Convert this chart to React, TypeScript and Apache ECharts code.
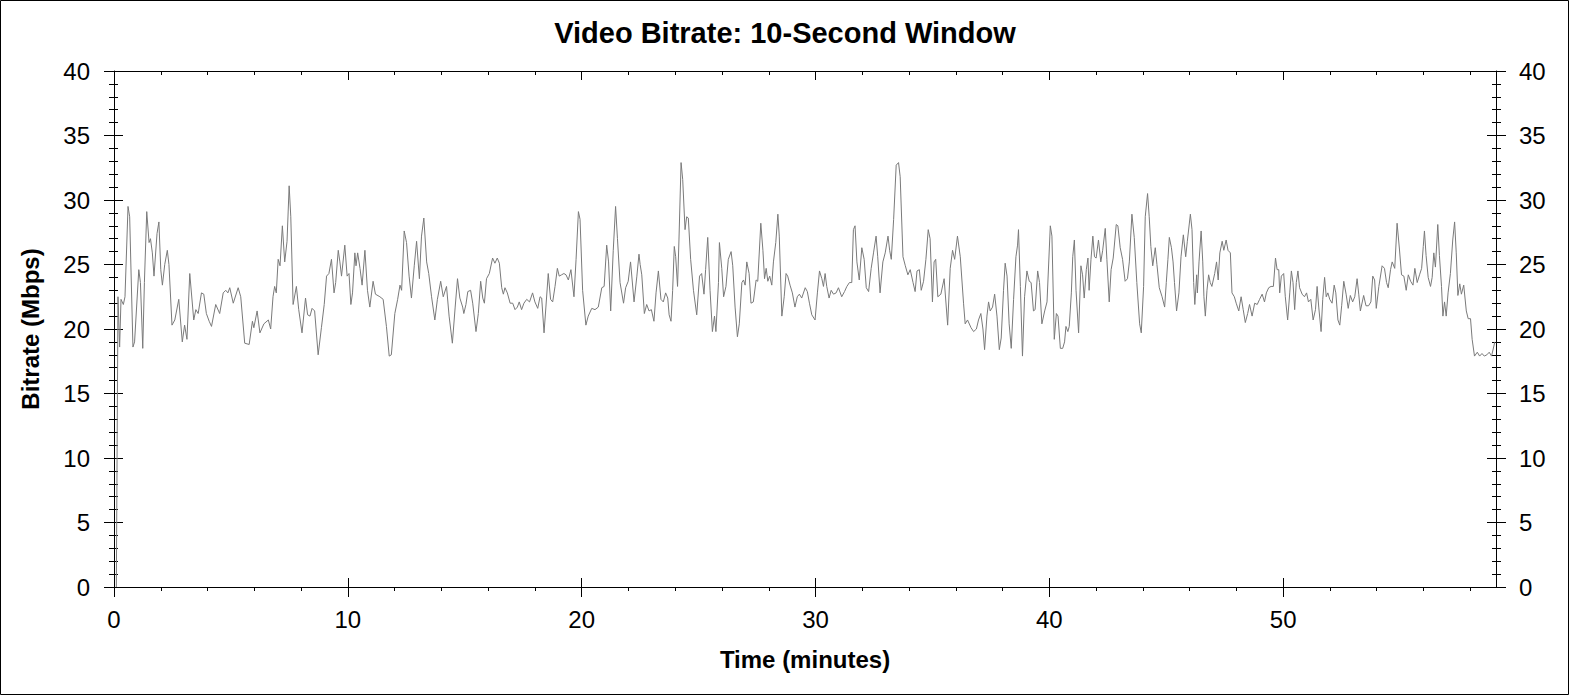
import { useEffect, useRef } from 'react';
import * as echarts from 'echarts';

// time in minutes, bitrate in Mbps (10-second window)
const minutes = [
  0.1, 0.17, 0.24, 0.3, 0.4, 0.47, 0.6, 0.67, 0.81, 0.88, 1.06, 1.13, 1.23, 1.3, 1.4, 1.5, 1.56, 1.64, 1.71, 1.84,
  1.92, 2.0, 2.07, 2.17, 2.28, 2.35, 2.48, 2.6, 2.77, 2.92, 3.02, 3.12, 3.24, 3.41, 3.5, 3.6, 3.74, 3.84, 3.95, 4.07,
  4.17, 4.35, 4.52, 4.67, 4.78, 4.87, 4.95, 5.1, 5.31, 5.42, 5.59, 5.78, 5.92, 5.98, 6.12, 6.24, 6.41, 6.6, 6.7, 6.8,
  6.87, 6.94, 7.02, 7.1, 7.2, 7.3, 7.4, 7.49, 7.56, 7.66, 7.8, 7.9, 8.04, 8.19, 8.28, 8.38, 8.47, 8.58, 8.73, 8.87,
  8.99, 9.09, 9.19, 9.3, 9.41, 9.48, 9.59, 9.66, 9.73, 9.87, 9.97, 10.05, 10.13, 10.2, 10.3, 10.35, 10.42, 10.52, 10.61, 10.73,
  10.84, 10.94, 11.08, 11.18, 11.37, 11.51, 11.65, 11.77, 11.86, 12.01, 12.13, 12.23, 12.3, 12.41, 12.51, 12.62, 12.72, 12.84, 12.94, 13.06,
  13.15, 13.25, 13.37, 13.46, 13.58, 13.72, 13.83, 13.97, 14.08, 14.22, 14.33, 14.47, 14.59, 14.69, 14.79, 14.91, 14.96, 15.05, 15.13, 15.25,
  15.34, 15.48, 15.58, 15.68, 15.77, 15.84, 15.93, 16.05, 16.19, 16.29, 16.39, 16.48, 16.58, 16.65, 16.72, 16.82, 16.94, 17.05, 17.15, 17.25,
  17.33, 17.43, 17.53, 17.65, 17.77, 17.9, 18.0, 18.12, 18.22, 18.29, 18.39, 18.47, 18.57, 18.67, 18.76, 18.86, 18.96, 19.04, 19.14, 19.24,
  19.33, 19.43, 19.54, 19.67, 19.76, 19.86, 19.93, 20.04, 20.18, 20.28, 20.43, 20.57, 20.71, 20.86, 20.96, 21.07, 21.15, 21.24, 21.35, 21.45,
  21.53, 21.64, 21.79, 21.88, 21.99, 22.09, 22.24, 22.36, 22.45, 22.5, 22.57, 22.68, 22.78, 22.88, 22.98, 23.09, 23.18, 23.28, 23.39, 23.49,
  23.59, 23.68, 23.74, 23.82, 23.89, 23.96, 24.02, 24.1, 24.16, 24.25, 24.32, 24.42, 24.49, 24.56, 24.66, 24.78, 24.92, 25.04, 25.13, 25.23,
  25.3, 25.39, 25.49, 25.59, 25.68, 25.74, 25.85, 25.89, 25.99, 26.07, 26.17, 26.27, 26.39, 26.46, 26.56, 26.66, 26.74, 26.85, 26.92, 26.99,
  27.06, 27.16, 27.24, 27.34, 27.46, 27.53, 27.66, 27.75, 27.82, 27.89, 27.96, 28.04, 28.13, 28.2, 28.3, 28.39, 28.45, 28.56, 28.66, 28.74,
  28.81, 28.91, 29.01, 29.12, 29.22, 29.31, 29.41, 29.56, 29.65, 29.74, 29.84, 29.98, 30.08, 30.17, 30.27, 30.34, 30.41, 30.48, 30.58, 30.67,
  30.77, 30.88, 30.98, 31.12, 31.24, 31.34, 31.45, 31.55, 31.62, 31.69, 31.77, 31.87, 31.98, 32.08, 32.17, 32.27, 32.38, 32.48, 32.59, 32.66,
  32.76, 32.88, 32.98, 33.1, 33.17, 33.24, 33.34, 33.45, 33.55, 33.62, 33.74, 33.84, 33.95, 34.05, 34.17, 34.26, 34.34, 34.44, 34.52, 34.62,
  34.72, 34.82, 34.9, 35.0, 35.07, 35.14, 35.23, 35.36, 35.5, 35.65, 35.76, 35.86, 35.95, 36.07, 36.19, 36.33, 36.4, 36.5, 36.65, 36.76,
  36.88, 36.97, 37.07, 37.16, 37.23, 37.33, 37.4, 37.47, 37.57, 37.66, 37.76, 37.86, 37.94, 38.04, 38.11, 38.19, 38.28, 38.37, 38.47, 38.57,
  38.64, 38.68, 38.76, 38.85, 38.94, 39.04, 39.14, 39.22, 39.32, 39.39, 39.5, 39.58, 39.68, 39.8, 39.9, 40.04, 40.11, 40.21, 40.3, 40.37,
  40.47, 40.57, 40.65, 40.71, 40.79, 40.85, 40.94, 41.0, 41.07, 41.14, 41.25, 41.35, 41.42, 41.49, 41.58, 41.65, 41.7, 41.78, 41.86, 41.93,
  42.0, 42.1, 42.2, 42.28, 42.39, 42.46, 42.56, 42.64, 42.73, 42.86, 42.93, 43.03, 43.13, 43.24, 43.34, 43.42, 43.53, 43.63, 43.74, 43.86,
  43.93, 44.03, 44.1, 44.2, 44.27, 44.34, 44.42, 44.53, 44.6, 44.7, 44.82, 44.93, 45.0, 45.07, 45.13, 45.22, 45.29, 45.35, 45.44, 45.54,
  45.63, 45.73, 45.83, 45.9, 46.03, 46.1, 46.17, 46.22, 46.3, 46.33, 46.4, 46.49, 46.56, 46.61, 46.67, 46.74, 46.81, 46.88, 46.95, 47.07,
  47.15, 47.22, 47.29, 47.39, 47.46, 47.56, 47.64, 47.74, 47.81, 47.91, 47.99, 48.1, 48.2, 48.29, 48.38, 48.48, 48.56, 48.67, 48.78, 48.89,
  48.99, 49.1, 49.2, 49.28, 49.38, 49.48, 49.58, 49.67, 49.74, 49.81, 49.85, 49.92, 50.02, 50.09, 50.19, 50.28, 50.35, 50.42, 50.49, 50.56,
  50.63, 50.7, 50.81, 50.91, 51.0, 51.08, 51.18, 51.28, 51.38, 51.45, 51.52, 51.62, 51.69, 51.77, 51.84, 51.91, 51.99, 52.09, 52.18, 52.25,
  52.34, 52.42, 52.5, 52.59, 52.69, 52.78, 52.87, 52.97, 53.06, 53.16, 53.23, 53.3, 53.44, 53.54, 53.65, 53.75, 53.83, 53.91, 53.98, 54.09,
  54.23, 54.33, 54.42, 54.49, 54.59, 54.66, 54.77, 54.87, 54.97, 55.06, 55.16, 55.26, 55.35, 55.45, 55.55, 55.63, 55.73, 55.83, 55.92, 55.99,
  56.04, 56.11, 56.2, 56.3, 56.37, 56.44, 56.51, 56.61, 56.68, 56.77, 56.83, 56.9, 56.97, 57.05, 57.15, 57.25, 57.33, 57.4, 57.47, 57.55,
  57.62, 57.72, 57.83, 57.91, 58.01, 58.08, 58.18, 58.3, 58.4, 58.5, 58.6, 58.71, 58.81, 58.91, 59.05,
];

const mbps = [
  0, 22.5, 18.6, 22.3, 21.9, 22.5, 29.5, 28.7, 18.6, 19.0, 24.6, 23.6, 18.5, 23.6, 29.1, 26.7, 27.0, 25.9, 24.1, 27.4,
  28.3, 24.6, 23.4, 25.0, 26.1, 25.0, 20.3, 20.7, 22.3, 19.0, 20.3, 19.2, 24.3, 20.7, 21.5, 21.2, 22.8, 22.7, 21.2, 20.6,
  20.2, 21.9, 21.2, 22.8, 23.0, 22.8, 23.2, 22.0, 23.2, 22.5, 18.9, 18.8, 20.6, 20.1, 21.4, 19.7, 20.4, 20.7, 20.0, 22.5,
  23.3, 22.8, 25.4, 24.9, 28.0, 25.2, 26.8, 31.1, 28.7, 21.9, 23.3, 21.5, 19.7, 22.4, 21.1, 21.0, 21.6, 21.4, 18.0, 20.1,
  21.9, 24.1, 24.3, 25.4, 22.8, 23.6, 26.1, 25.2, 24.1, 26.5, 24.1, 24.3, 21.9, 22.8, 25.9, 24.9, 25.9, 24.7, 23.4, 26.1,
  23.0, 21.7, 23.7, 22.7, 22.5, 22.3, 20.2, 17.9, 18.0, 21.2, 22.3, 23.4, 23.0, 27.6, 26.7, 24.1, 22.4, 24.9, 26.8, 23.9,
  27.2, 28.6, 25.2, 24.3, 22.5, 20.7, 22.3, 23.7, 22.5, 23.3, 21.0, 18.9, 21.7, 23.9, 22.4, 21.7, 21.2, 21.9, 22.9, 23.0,
  22.0, 19.8, 21.2, 23.7, 22.4, 22.0, 23.9, 24.3, 25.5, 25.1, 25.5, 25.1, 23.2, 22.7, 23.2, 22.8, 22.0, 22.0, 21.5, 21.7,
  22.1, 21.5, 22.0, 22.3, 22.1, 22.8, 22.1, 21.6, 22.5, 22.4, 19.7, 21.7, 24.3, 22.3, 22.1, 23.3, 24.7, 24.1, 24.2, 24.3,
  24.2, 23.8, 24.6, 22.5, 25.4, 29.1, 28.5, 23.0, 20.3, 21.0, 21.6, 21.5, 21.7, 23.2, 23.3, 26.5, 25.2, 21.4, 26.1, 29.5,
  27.0, 23.6, 22.0, 23.2, 23.7, 25.2, 22.1, 24.1, 25.8, 25.0, 24.2, 21.2, 21.9, 21.4, 21.5, 20.6, 22.8, 24.5, 22.3, 22.1,
  22.8, 22.4, 21.1, 20.6, 23.0, 26.4, 25.6, 23.3, 26.9, 32.9, 31.6, 27.7, 28.7, 28.6, 25.4, 23.0, 21.1, 24.1, 24.3, 22.7,
  24.6, 27.1, 23.0, 19.8, 21.0, 19.8, 23.6, 26.7, 24.7, 22.5, 23.3, 25.4, 26.0, 24.9, 21.7, 19.4, 20.4, 23.6, 23.8, 23.4,
  25.2, 24.3, 22.0, 22.1, 23.8, 23.7, 28.2, 26.1, 23.9, 24.7, 23.7, 24.1, 23.4, 25.2, 26.7, 28.9, 27.2, 21.0, 22.5, 24.3,
  24.1, 23.4, 22.8, 21.7, 22.5, 22.7, 22.4, 23.2, 22.9, 22.0, 21.1, 20.7, 22.8, 24.5, 23.9, 23.3, 24.3, 23.3, 22.4, 23.0,
  22.7, 22.8, 23.2, 22.5, 22.9, 23.3, 23.6, 23.6, 27.7, 28.0, 25.2, 23.8, 26.3, 25.4, 23.2, 22.9, 24.7, 25.9, 27.2, 25.6,
  22.8, 25.2, 25.9, 27.2, 26.1, 25.4, 28.5, 32.7, 32.9, 31.8, 25.6, 24.9, 24.2, 24.6, 23.6, 22.9, 24.5, 24.6, 23.0, 23.7,
  25.4, 27.7, 27.0, 22.1, 25.2, 25.4, 22.5, 22.7, 23.9, 20.3, 24.7, 26.1, 25.4, 27.2, 25.6, 22.0, 20.4, 20.7, 20.1, 19.8,
  20.0, 20.7, 21.2, 20.0, 18.4, 21.0, 22.1, 21.4, 21.7, 22.7, 21.0, 18.4, 19.3, 23.0, 25.1, 24.1, 20.4, 18.5, 22.3, 25.6,
  26.5, 27.7, 23.3, 17.9, 22.5, 24.5, 23.7, 23.6, 21.4, 21.5, 24.5, 23.6, 20.4, 21.4, 22.1, 28.0, 27.2, 19.2, 21.2, 21.0,
  18.5, 18.5, 19.0, 20.2, 19.8, 20.2, 22.8, 25.6, 26.9, 23.0, 19.7, 24.9, 24.2, 22.4, 24.6, 25.5, 23.0, 25.4, 27.2, 25.6,
  25.5, 26.9, 25.2, 26.1, 27.8, 25.4, 22.1, 24.6, 25.5, 28.1, 28.0, 26.3, 25.4, 23.7, 23.9, 25.2, 28.9, 27.1, 23.6, 20.4,
  19.7, 23.3, 28.7, 30.5, 28.7, 26.4, 24.9, 26.3, 25.0, 23.2, 22.5, 21.7, 23.6, 25.4, 27.1, 26.3, 25.2, 23.6, 21.4, 22.8,
  25.6, 27.3, 25.6, 26.8, 28.9, 27.7, 23.6, 21.9, 24.2, 22.8, 25.2, 27.6, 25.2, 22.5, 21.0, 23.0, 24.2, 23.6, 23.3, 24.3,
  25.2, 23.8, 25.9, 26.8, 26.1, 26.9, 26.1, 25.9, 22.8, 22.5, 22.0, 21.4, 22.5, 21.5, 20.5, 21.2, 21.9, 21.0, 22.0, 21.9,
  22.3, 22.7, 22.1, 22.8, 23.2, 23.3, 23.3, 25.5, 24.6, 24.6, 22.8, 24.1, 24.3, 22.5, 20.7, 22.8, 24.5, 23.6, 21.5, 23.6,
  24.5, 23.2, 22.7, 22.5, 22.8, 22.1, 22.3, 20.7, 21.5, 23.3, 21.7, 19.8, 22.3, 24.0, 22.5, 22.8, 22.3, 22.0, 23.4, 22.8,
  20.7, 20.3, 21.8, 23.7, 22.7, 21.6, 22.6, 22.1, 22.5, 23.9, 22.7, 21.4, 22.6, 21.8, 21.8, 22.1, 24.1, 23.8, 21.6, 23.3,
  24.9, 24.7, 23.6, 23.2, 24.6, 25.2, 24.7, 28.2, 26.2, 24.2, 24.1, 23.0, 24.2, 23.7, 23.4, 24.7, 23.6, 24.2, 24.7, 26.4,
  27.6, 25.7, 24.0, 23.3, 24.0, 25.9, 24.8, 28.1, 25.7, 23.3, 21.0, 22.1, 21.0, 22.8, 24.3, 26.9, 28.3, 25.9, 22.6, 23.5,
  22.7, 23.4, 21.4, 20.8, 20.8, 19.2, 17.9, 18.2, 17.9, 18.1, 17.9, 18.0, 18.2, 17.9, 19.0,
];

const xMajorTicks = [0, 10, 20, 30, 40, 50];
const xMinorTicks = [0, 2, 4, 6, 8, 10, 12, 14, 16, 18, 20, 22, 24, 26, 28, 30, 32, 34, 36, 38, 40, 42, 44, 46, 48, 50, 52, 54, 56, 58];

const X_MAX = 59.1;
const Y_MAX = 40;
const FONT = '"Liberation Sans", Arial, sans-serif';
const INK = '#000';

const tickFont = { fontSize: 24, color: INK, fontFamily: FONT };
const nameFont = { fontSize: 24, fontWeight: 'bold' as const, color: INK, fontFamily: FONT };

// one layer of ticks on the time axis; several layers give crossing ticks
function timeLayer(position: 'top' | 'bottom', ticks: number[], length: number, inside: boolean, withLine: boolean) {
  return {
    type: 'value',
    position,
    min: 0,
    max: X_MAX,
    interval: 10,
    axisLine: { show: withLine, onZero: false, lineStyle: { color: INK, width: 1 } },
    axisTick: { show: true, inside, length, customValues: ticks, lineStyle: { color: INK, width: 1 } },
    axisLabel: { show: false },
    splitLine: { show: false },
  };
}

function rateLayer(position: 'left' | 'right', length: number, minorLength: number, inside: boolean, withLine: boolean) {
  return {
    type: 'value',
    position,
    min: 0,
    max: Y_MAX,
    interval: 5,
    axisLine: { show: withLine, onZero: false, lineStyle: { color: INK, width: 1 } },
    axisTick: { show: true, inside, length, lineStyle: { color: INK, width: 1 } },
    minorTick: { show: true, splitNumber: 5, length: minorLength, lineStyle: { color: INK, width: 1 } },
    axisLabel: { show: false },
    splitLine: { show: false },
    minorSplitLine: { show: false },
  };
}

export default function App() {
  const chartRef = useRef<HTMLDivElement>(null);

  useEffect(() => {
    if (!chartRef.current) return;
    const chart = echarts.init(chartRef.current, undefined, { renderer: 'svg' });

    const bottomMain = {
      ...timeLayer('bottom', xMajorTicks, 10, false, true),
      axisLabel: { show: true, customValues: xMajorTicks, margin: 20, ...tickFont },
      name: 'Time (minutes)',
      nameLocation: 'middle',
      nameGap: 60,
      nameTextStyle: nameFont,
    };
    const leftMain = {
      ...rateLayer('left', 10, 5, false, true),
      axisLabel: { show: true, margin: 24, ...tickFont },
      name: 'Bitrate (Mbps)',
      nameLocation: 'middle',
      nameRotate: 90,
      nameGap: 72,
      nameTextStyle: nameFont,
    };
    const rightMain = {
      ...rateLayer('right', 10, 5, false, true),
      axisLabel: { show: true, margin: 23, ...tickFont },
    };

    chart.setOption({
      animation: false,
      backgroundColor: '#fff',
      title: {
        text: 'Video Bitrate: 10-Second Window',
        left: 'center',
        top: 18,
        padding: 0,
        textStyle: { fontSize: 29, fontWeight: 'bold', color: INK, fontFamily: FONT },
      },
      grid: { left: 114, right: 74, top: 71, bottom: 108 },
      xAxis: [
        bottomMain,
        timeLayer('bottom', xMajorTicks, 9, true, false),
        timeLayer('bottom', xMinorTicks, 4, false, false),
        timeLayer('top', xMajorTicks, 9, true, true),
        timeLayer('top', xMinorTicks, 4, true, false),
      ],
      yAxis: [leftMain, rateLayer('left', 9, 4, true, false), rightMain, rateLayer('right', 9, 4, true, false)],
      graphic: [
        {
          type: 'rect',
          shape: { x: 0.5, y: 0.5, width: 1568, height: 694 },
          style: { fill: 'none', stroke: INK, lineWidth: 1 },
          silent: true,
        },
      ],
      series: [
        {
          type: 'line',
          xAxisIndex: 0,
          yAxisIndex: 0,
          data: minutes.map((t, i) => [t, mbps[i]]),
          showSymbol: false,
          lineStyle: { color: '#7a7a7a', width: 1 },
        },
      ],
    });

    return () => chart.dispose();
  }, []);

  return (
    <div
      ref={chartRef}
      style={{ position: 'fixed', left: 0, top: 0, width: 1570, height: 695, background: '#fff' }}
    />
  );
}
